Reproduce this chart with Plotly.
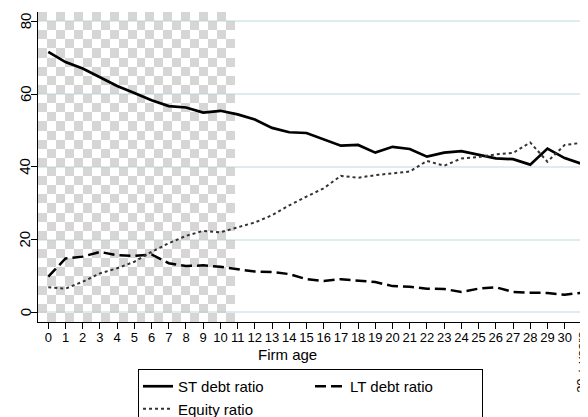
import numpy as np
import plotly.graph_objects as go

firm_age = list(range(32))
tick_labels = [str(i) for i in range(31)] + [""]
last_label = "30 + years"
y_ticks = [0, 20, 40, 60, 80]
x_title = "Firm age"

st_debt = [71.6, 68.8, 67.0, 64.6, 62.2, 60.3, 58.3, 56.7, 56.3, 54.9, 55.4,
           54.4, 53.0, 50.7, 49.5, 49.3, 47.5, 45.8, 46.0, 43.9, 45.5, 44.9,
           42.8, 43.9, 44.3, 43.4, 42.3, 42.1, 40.6, 45.0, 42.4, 40.8]
lt_debt = [9.8, 14.8, 15.3, 16.6, 15.7, 15.5, 15.9, 13.5, 12.7, 12.9, 12.5,
           11.8, 11.2, 11.1, 10.5, 9.1, 8.6, 9.1, 8.6, 8.3, 7.2, 7.0,
           6.5, 6.4, 5.6, 6.5, 6.9, 5.6, 5.4, 5.3, 4.8, 5.4]
equity = [6.9, 6.5, 8.4, 10.7, 12.1, 13.9, 16.6, 19.0, 21.0, 22.4, 22.0,
          23.4, 24.7, 26.7, 29.4, 31.8, 34.1, 37.5, 37.0, 37.7, 38.2, 38.7,
          41.6, 40.3, 42.3, 42.7, 43.4, 43.8, 46.7, 41.4, 46.0, 46.6]

x_range = [-0.598, 31.24]
y_range = [-2.67, 82.56]
shade_end = 10.85  # shaded young-firm region ends just before age 11

font_family = "Liberation Sans, Arial, sans-serif"

fig = go.Figure()

# checkered background for the shaded region (decoration)
ncols, nrows = 22, 34
dx = (shade_end - x_range[0]) / ncols
dy = (y_range[1] - y_range[0]) / nrows
checker = [[(i + j) % 2 for i in range(ncols)] for j in range(nrows)]
fig.add_trace(go.Heatmap(
    z=checker, x0=x_range[0] + dx / 2, dx=dx, y0=y_range[0] + dy / 2, dy=dy,
    colorscale=[[0, "rgba(255,255,255,0)"], [1, "rgba(200,200,200,0.75)"]],
    showscale=False, hoverinfo="skip", showlegend=False, zmin=0, zmax=1,
))

fig.add_trace(go.Scatter(
    x=firm_age, y=st_debt, mode="lines", name="ST debt ratio",
    line=dict(color="black", width=2.7), legendgroup="a",
))
fig.add_trace(go.Scatter(
    x=firm_age, y=lt_debt, mode="lines", name="LT debt ratio",
    line=dict(color="black", width=2.5, dash="11px,5px"), legendgroup="b",
))
fig.add_trace(go.Scatter(
    x=firm_age, y=equity, mode="lines", name="Equity ratio",
    line=dict(color="#333333", width=2, dash="dot"), legendgroup="a",
))

# rotated label for the last age class
fig.add_annotation(
    x=31, y=0, xref="x", yref="paper", text=last_label, textangle=-90,
    showarrow=False, xanchor="center", yanchor="middle", yshift=-40, xshift=-1,
    font=dict(family=font_family, size=13, color="black"),
)
# rotated y tick labels
for v in y_ticks:
    fig.add_annotation(
        x=0, y=v, xref="paper", yref="y", text=str(v), textangle=-90,
        showarrow=False, xanchor="center", yanchor="middle", xshift=-13,
        font=dict(family=font_family, size=15, color="black"),
    )
# x axis title
fig.add_annotation(
    x=0.456, y=0, xref="paper", yref="paper", text=x_title, showarrow=False,
    xanchor="center", yanchor="top", yshift=-22,
    font=dict(family=font_family, size=15, color="black"),
)

# page body has an 8px default margin, so the figure is 8px smaller
fig.update_layout(
    width=580, height=409,
    margin=dict(l=30, r=2, t=4, b=95, autoexpand=False),
    paper_bgcolor="white", plot_bgcolor="white",
    font=dict(family=font_family, color="black"),
    xaxis=dict(
        range=x_range, tickmode="array", tickvals=firm_age, ticktext=tick_labels,
        tickangle=0, ticks="outside", ticklen=6, tickwidth=1, tickcolor="black",
        showline=True, linecolor="black", linewidth=1, showgrid=False,
        zeroline=False, tickfont=dict(size=13), automargin=False,
        ticklabelstandoff=-3,
    ),
    yaxis=dict(
        range=y_range, tickmode="array", tickvals=y_ticks,
        showticklabels=False, ticks="outside", ticklen=6, tickwidth=1,
        tickcolor="black", showline=True, linecolor="black", linewidth=1,
        showgrid=True, gridcolor="#dcecef", gridwidth=1.5,
        zeroline=False, automargin=False,
    ),
    legend=dict(
        orientation="h", traceorder="grouped", entrywidth=127,
        x=0.1825, xanchor="left", y=-0.1516, yanchor="top",
        bordercolor="black", borderwidth=1, bgcolor="white",
        font=dict(size=15), tracegroupgap=0,
    ),
)

fig.write_html("out.html")
